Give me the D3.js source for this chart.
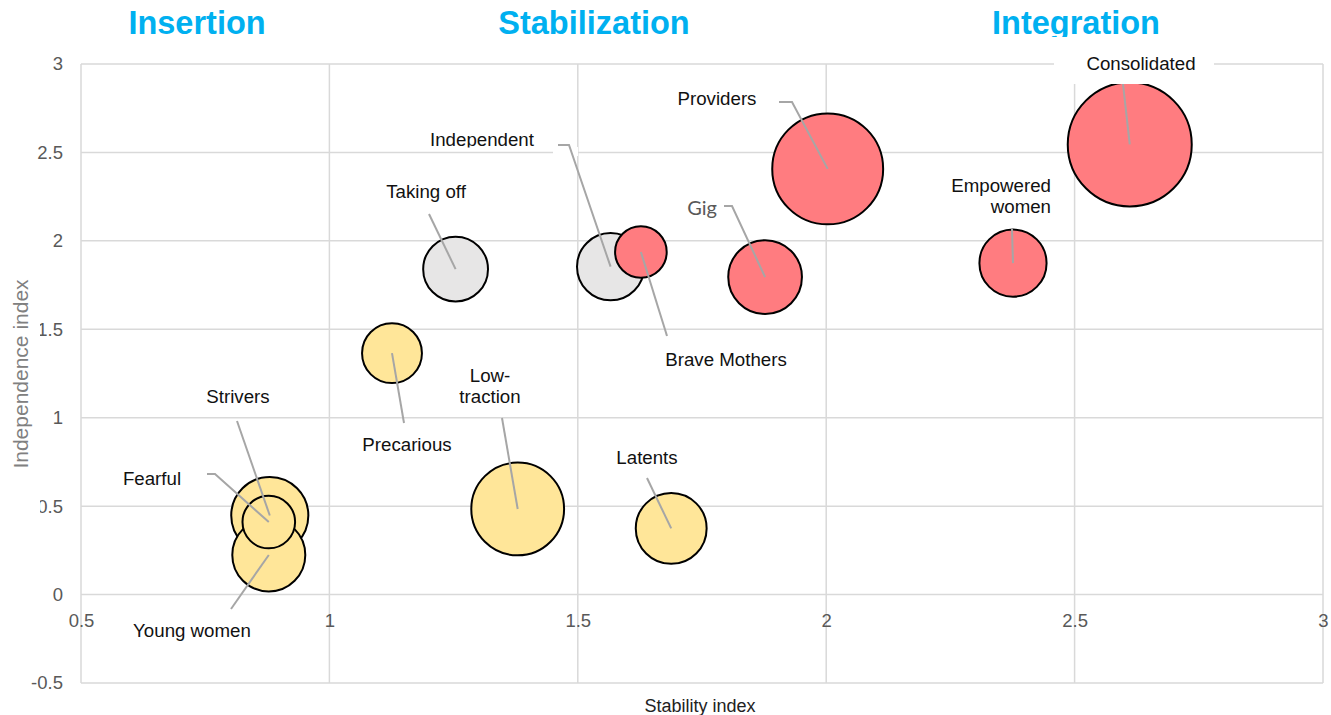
<!DOCTYPE html>
<html>
<head>
<meta charset="utf-8">
<script src="https://cdn.jsdelivr.net/npm/d3@7"></script>
<style>
  html, body { margin: 0; padding: 0; background: #fff; }
  svg { display: block; font-family: "Liberation Sans", Arial, sans-serif; }
</style>
</head>
<body>
<svg id="chart" width="1331" height="715"></svg>
<script>
// Segments: stability index (x), independence index (y), bubble size (share of sample)
const names   = ["Strivers", "Young women", "Fearful", "Precarious", "Low-traction", "Latents",
                 "Taking off", "Independent",
                 "Brave Mothers", "Gig", "Providers", "Empowered women", "Consolidated"];
const groups  = ["insertion", "insertion", "insertion", "insertion", "insertion", "insertion",
                 "stabilization", "stabilization",
                 "integration", "integration", "integration", "integration", "integration"];
const stability    = [0.880, 0.878, 0.878, 1.126, 1.379, 1.688, 1.254, 1.566, 1.627, 1.877, 2.003, 2.376, 2.611];
const independence = [0.447, 0.224, 0.410, 1.365, 0.484, 0.374, 1.840, 1.854, 1.937, 1.795, 2.407, 1.874, 2.545];
const sizes        = [5.8, 5.2, 2.7, 3.5, 8.4, 4.9, 4.1, 4.4, 2.6, 5.3, 12.0, 4.4, 15.0];

const xTicks = [0.5, 1, 1.5, 2, 2.5, 3];
const xTickLabels = ["0.5", "1", "1.5", "2", "2.5", "3"];
const yTicks = [-0.5, 0, 0.5, 1, 1.5, 2, 2.5, 3];
const yTickLabels = ["-0.5", "0", "0.5", "1", "1.5", "2", "2.5", "3"];

const phases = ["Insertion", "Stabilization", "Integration"];
const xTitle = "Stability index";
const yTitle = "Independence index";

// Label placement: text lines, anchor point, leader start / elbow (pixels)
const labelLayout = {
  "Strivers":        { lines: ["Strivers"], tx: 238, ty: 403, anchor: "middle", lead: [[237, 421]] },
  "Fearful":         { lines: ["Fearful"], tx: 152, ty: 485, anchor: "middle", lead: [[207, 474], [215, 474]] },
  "Young women":     { lines: ["Young women"], tx: 192, ty: 637, anchor: "middle", lead: [[231, 609]] },
  "Precarious":      { lines: ["Precarious"], tx: 407, ty: 451, anchor: "middle", lead: [[404, 423]] },
  "Low-traction":    { lines: ["Low-", "traction"], tx: 490, ty: 382, anchor: "middle", lead: [[502, 418]] },
  "Latents":         { lines: ["Latents"], tx: 647, ty: 464, anchor: "middle", lead: [[647, 478]] },
  "Taking off":      { lines: ["Taking off"], tx: 426, ty: 198, anchor: "middle", lead: [[429, 214]] },
  "Independent":     { lines: ["Independent"], tx: 482, ty: 146, anchor: "middle", lead: [[558, 145], [569, 145]], clipBottom: 147.5 },
  "Brave Mothers":   { lines: ["Brave Mothers"], tx: 726, ty: 366, anchor: "middle", lead: [[667, 336]] },
  "Gig":             { lines: ["Gig"], tx: 702, ty: 215, anchor: "middle", lead: [[724, 206], [732, 206]], muted: true },
  "Providers":       { lines: ["Providers"], tx: 717, ty: 105, anchor: "middle", lead: [[779, 102], [792, 102]] },
  "Empowered women": { lines: ["Empowered", "women"], tx: 1051, ty: 192, anchor: "end", lead: [[1012, 229]] },
  "Consolidated":    { lines: ["Consolidated"], tx: 1141, ty: 70, anchor: "middle", lead: [[1123, 84]], box: [1054, 50, 160, 34] }
};

const colors = { insertion: "#FFE699", stabilization: "#E7E6E6", integration: "#FF7C80" };

const svg = d3.select("#chart");
const x = d3.scaleLinear().domain([0.5, 3]).range([81, 1323]);
const y = d3.scaleLinear().domain([-0.5, 3]).range([683, 64]);
const r = d3.scaleSqrt().domain([0, 15]).range([0, 62]);

const data = names.map((n, i) => ({
  name: n, group: groups[i], sx: stability[i], iy: independence[i], size: sizes[i]
}));

// Grid
const grid = svg.append("g").attr("stroke", "#D9D9D9").attr("stroke-width", 1.5);
grid.selectAll("line.v").data(xTicks).join("line")
  .attr("x1", d => x(d)).attr("x2", d => x(d))
  .attr("y1", y(3)).attr("y2", y(-0.5));
grid.selectAll("line.h").data(yTicks).join("line")
  .attr("x1", x(0.5)).attr("x2", x(3))
  .attr("y1", d => y(d)).attr("y2", d => y(d));

// Axes (labels only; lines come from the grid)
const fontTick = { size: "18.5px", fill: "#595959" };
const xAxis = svg.append("g").attr("transform", `translate(0,${y(0)})`)
  .call(d3.axisBottom(x).tickValues(xTicks).tickSize(0).tickPadding(19)
    .tickFormat((d, i) => xTickLabels[i]));
const yAxis = svg.append("g").attr("transform", `translate(${x(0.5)},0)`)
  .call(d3.axisLeft(y).tickValues(yTicks).tickSize(0).tickPadding(18)
    .tickFormat((d, i) => yTickLabels[i]));
[xAxis, yAxis].forEach(a => {
  a.select(".domain").remove();
  a.selectAll("text").attr("font-family", "'Liberation Sans', Arial, sans-serif")
    .attr("font-size", fontTick.size).attr("fill", fontTick.fill);
});

// Y title box and text
svg.append("rect").attr("x", 0).attr("y", 262).attr("width", 40).attr("height", 253).attr("fill", "#fff");
svg.append("text")
  .attr("transform", `translate(28,${374}) rotate(-90)`)
  .attr("text-anchor", "middle").attr("font-size", "21px").attr("fill", "#808080")
  .text(yTitle);

svg.append("text")
  .attr("x", 700).attr("y", 712).attr("text-anchor", "middle")
  .attr("font-size", "18px").attr("fill", "#222").text(xTitle);

// Gap under the Independent label
svg.append("rect").attr("x", 553).attr("y", 147).attr("width", 25).attr("height", 9).attr("fill", "#fff");

// Bubbles
svg.append("g").selectAll("circle").data(data).join("circle")
  .attr("cx", d => x(d.sx)).attr("cy", d => y(d.iy)).attr("r", d => r(d.size))
  .attr("fill", d => colors[d.group]).attr("stroke", "#000").attr("stroke-width", 2);

// Leader lines
const line = d3.line();
svg.append("g").selectAll("path").data(data).join("path")
  .attr("d", d => line(labelLayout[d.name].lead.concat([[x(d.sx), y(d.iy)]])))
  .attr("fill", "none").attr("stroke", "#A6A6A6").attr("stroke-width", 2);

// White label boxes
data.filter(d => labelLayout[d.name].box).forEach(d => {
  const b = labelLayout[d.name].box;
  svg.append("rect").attr("x", b[0]).attr("y", b[1]).attr("width", b[2]).attr("height", b[3]).attr("fill", "#fff");
});

// Labels
const defs = svg.append("defs");
data.forEach((d, i) => {
  const L = labelLayout[d.name];
  const t = svg.append("text")
    .attr("text-anchor", L.anchor)
    .attr("font-size", L.muted ? "20px" : "18.7px")
    .attr("font-family", L.muted ? "Lato, 'Open Sans', sans-serif" : "'Liberation Sans', Arial, sans-serif")
    .attr("fill", L.muted ? "#595959" : "#111");
  L.lines.forEach((s, k) => {
    t.append("tspan").attr("x", L.tx).attr("y", L.ty + k * 21).text(s);
  });
  if (L.clipBottom) {
    const id = "clip-label-" + i;
    defs.append("clipPath").attr("id", id).append("rect")
      .attr("x", 0).attr("y", 0).attr("width", 1331).attr("height", L.clipBottom);
    t.attr("clip-path", `url(#${id})`);
  }
});

// Phase headings
defs.append("clipPath").attr("id", "clip-phases").append("rect")
  .attr("x", 0).attr("y", 0).attr("width", 1331).attr("height", 37);
const phaseX = [197, 594, 1076];
svg.append("g").attr("clip-path", "url(#clip-phases)")
  .selectAll("text").data(phases).join("text")
  .attr("x", (d, i) => phaseX[i]).attr("y", 34)
  .attr("text-anchor", "middle")
  .attr("font-family", "'Liberation Sans', Arial, sans-serif")
  .attr("font-weight", "bold").attr("font-size", "32.5px").attr("fill", "#00B0F0")
  .text(d => d);
</script>
</body>
</html>
